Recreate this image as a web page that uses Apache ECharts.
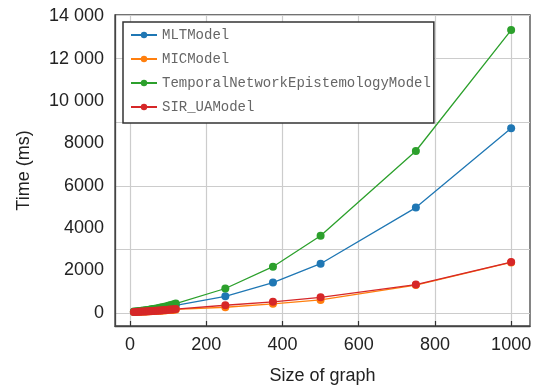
<!DOCTYPE html>
<html>
<head>
<meta charset="utf-8">
<script src="https://cdn.jsdelivr.net/npm/echarts@6/dist/echarts.min.js"></script>
<style>html,body{margin:0;padding:0;background:#fff}#c{width:536px;height:387px}</style>
</head>
<body>
<div id="c"></div>
<script>
var sizes = [10,15,20,25,30,35,40,45,50,55,60,65,70,75,80,85,90,95,100,105,110,115,120,250,375,500,750,1000];
var mltValues = [45,55,60,70,80,90,100,110,120,130,145,155,170,185,200,215,230,250,265,285,305,325,350,780,1430,2320,4970,8710];
var micValues = [35,40,45,50,55,60,65,70,75,80,85,90,95,100,105,110,115,120,130,135,140,150,160,265,425,610,1310,2380];
var tneValues = [60,70,80,90,100,110,125,140,150,165,180,195,210,230,250,265,285,305,330,355,380,410,440,1150,2180,3640,7640,13350];
var sirValues = [40,45,50,55,60,65,70,75,80,85,90,100,105,110,115,125,130,140,145,155,160,170,180,360,520,735,1335,2400];
var seriesNames = ['MLTModel','MICModel','TemporalNetworkEpistemologyModel','SIR_UAModel'];
var seriesColors = ['#1f77b4','#ff7f0e','#2ca02c','#d62728'];
var xTicks = [0,200,400,600,800,1000];
var yTicks = [0,2000,4000,6000,8000,10000,12000,14000];

function pairs(vals){ return sizes.map(function(x,i){ return [x, vals[i]]; }); }
var allVals = [mltValues, micValues, tneValues, sirValues];

function fmt(v){
  var s = String(Math.round(v));
  if (v >= 10000) { s = s.slice(0, s.length-3) + ' ' + s.slice(s.length-3); }
  return s;
}

var chart = echarts.init(document.getElementById('c'), null, {renderer:'canvas'});
chart.setOption({
  animation: false,
  backgroundColor: '#fff',
  grid: {left:115, right:6, top:15, bottom:61, outerBoundsMode:'none', containLabel:false, show:true, borderColor:'#444', borderWidth:1.3, backgroundColor:'transparent'},
  legend: {
    left:123, top:22, orient:'vertical',
    itemWidth:26, itemHeight:8, itemGap:10,
    padding:[6,3,9,7],
    borderColor:'#333', borderWidth:1.5, backgroundColor:'#fff',
    textStyle:{fontFamily:'Liberation Mono', fontSize:14, color:'#666'},
    data: seriesNames
  },
  xAxis: {
    type:'value', min:-39.5, max:1049.5,
    name:'Size of graph', nameLocation:'middle', nameGap:41,
    nameTextStyle:{fontFamily:'Liberation Sans', fontSize:18, color:'#222'},
    axisLine:{show:true, onZero:false, lineStyle:{color:'#444', width:1.3}},
    axisTick:{show:true, inside:true, length:5, customValues:xTicks, lineStyle:{color:'#333', width:1.2}},
    axisLabel:{customValues:xTicks, fontFamily:'Liberation Sans', fontSize:18, color:'#222', margin:10, formatter:fmt},
    splitLine:{show:true, lineStyle:{color:'#cccccc', width:1.2}}
  },
  yAxis: {
    type:'value', min:-620, max:14060,
    name:'Time (ms)', nameLocation:'middle', nameGap:82,
    nameTextStyle:{fontFamily:'Liberation Sans', fontSize:18, color:'#222'},
    axisLine:{show:true, onZero:false, lineStyle:{color:'#444', width:1.3}},
    axisTick:{show:false},
    axisLabel:{customValues:yTicks, fontFamily:'Liberation Sans', fontSize:18, color:'#222', margin:11, formatter:fmt},
    splitLine:{show:true, lineStyle:{color:'#cccccc', width:1.2}}
  },
  series: seriesNames.map(function(n,i){
    return {
      name:n, type:'line', data:pairs(allVals[i]),
      symbol:'circle', symbolSize:8, showSymbol:true,
      itemStyle:{color:seriesColors[i]},
      lineStyle:{color:seriesColors[i], width:1.3},
      emphasis:{disabled:true}
    };
  })
});
</script>
</body>
</html>
